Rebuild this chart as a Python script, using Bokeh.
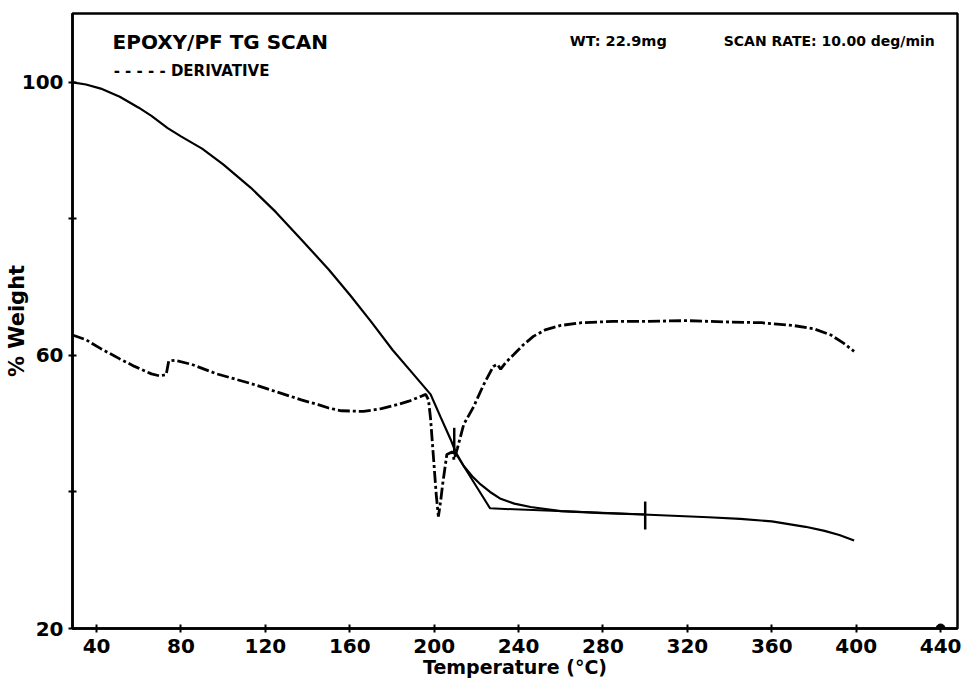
from bokeh.plotting import figure
from bokeh.models import Range1d, FixedTicker, Label
from bokeh.embed import file_html
from bokeh.resources import INLINE

# ---- data ----
tg_temp = [28.6, 35, 42, 51, 60, 66, 73.7, 80, 90, 100, 113, 125, 137, 150, 160,
           170, 180.3, 190, 198.3, 203, 207.8, 210.1, 214, 218, 222, 226.5, 231.5,
           238, 245.7, 260, 280, 299, 330, 345, 360, 376, 385, 392, 399]
tg_weight = [100.0, 99.7, 99.1, 97.9, 96.3, 95.1, 93.3, 92.1, 90.3, 88.0, 84.6, 81.0,
             77.0, 72.6, 68.9, 65.0, 60.8, 57.3, 54.3, 51.0, 47.7, 45.9, 43.8, 42.3,
             41.1, 40.0, 39.0, 38.3, 37.8, 37.2, 36.9, 36.7, 36.3, 36.05, 35.7, 34.9,
             34.3, 33.7, 32.9]

deriv_temp = [28.6, 35, 42, 51, 58, 66, 70, 73, 74.2, 77, 85, 97, 105, 113, 121, 129,
              137, 145, 150, 156, 166.5, 175, 182.6, 188, 193.6, 196, 197.3, 198.3,
              199.8, 201, 202, 203, 204, 206, 208.7, 209.4, 211, 214, 218.7, 223.4,
              228, 230, 231.5, 234, 237.6, 242, 247, 253, 260, 270, 285, 300, 320,
              340, 355, 370, 380, 388, 394, 399]
deriv_value = [63.0, 62.3, 61.0, 59.5, 58.4, 57.3, 57.0, 57.2, 59.2, 59.3, 58.7, 57.3,
               56.6, 55.9, 55.1, 54.3, 53.5, 52.8, 52.3, 51.9, 51.8, 52.2, 52.8, 53.3,
               54.0, 54.3, 53.5, 50.7, 44.5, 39.5, 36.4, 38.5, 41.1, 45.5, 45.9, 44.7,
               46.4, 49.9, 52.5, 55.7, 58.4, 58.7, 58.0, 59.0, 60.1, 61.5, 62.8, 63.8,
               64.4, 64.8, 65.0, 65.0, 65.1, 64.9, 64.8, 64.4, 63.9, 63.0, 61.8, 60.6]

onset_temp = [209.5, 226.5, 300]
onset_weight = [46.0, 37.6, 36.7]

marker_temp = [209.5, 300]
marker_top = [49.4, 38.6]
marker_bottom = [45.5, 34.5]

x_ticks = [40, 80, 120, 160, 200, 240, 280, 320, 360, 400, 440]
y_ticks = [20, 40, 60, 80, 100]
y_tick_labels = {20: "20", 40: "", 60: "60", 80: "", 100: "100"}

title_text = "EPOXY/PF  TG SCAN"
legend_text = "- - - - -   DERIVATIVE"
weight_text = "WT: 22.9mg"
rate_text = "SCAN RATE: 10.00 deg/min"

FONT = "DejaVu Sans"

p = figure(width=966, height=687, output_backend="svg", toolbar_location=None,
           x_range=Range1d(28.6, 448.0), y_range=Range1d(20, 110.1),
           min_border_left=72, min_border_right=9, min_border_top=13,
           min_border_bottom=59)
p.background_fill_color = "white"
p.border_fill_color = "white"
p.grid.visible = False
p.outline_line_color = "black"
p.outline_line_width = 2.5

# axes
p.xaxis.ticker = FixedTicker(ticks=x_ticks)
p.yaxis.ticker = FixedTicker(ticks=y_ticks)
p.yaxis.major_label_overrides = y_tick_labels
for ax in (p.xaxis[0], p.yaxis[0]):
    ax.axis_line_width = 2.5
    ax.axis_line_color = "black"
    ax.major_tick_in = 4
    ax.major_tick_out = 4
    ax.major_tick_line_width = 2
    ax.minor_tick_line_color = None
    ax.major_label_text_font = FONT
    ax.major_label_text_font_style = "bold"
    ax.major_label_text_font_size = "20px"
    ax.major_label_text_color = "black"
    ax.axis_label_text_font = FONT
    ax.axis_label_text_font_style = "bold"
    ax.axis_label_text_color = "black"

p.xaxis.axis_label = "Temperature (°C)"
p.xaxis.axis_label_text_font_size = "19px"
p.xaxis.major_label_standoff = 6
p.xaxis.axis_label_standoff = 0

p.yaxis.axis_label = "% Weight"
p.yaxis.axis_label_text_font_size = "21px"
p.yaxis.major_label_standoff = 5
p.yaxis.axis_label_standoff = -10

# curves
p.line(tg_temp, tg_weight, line_color="black", line_width=2.2)
p.line(deriv_temp, deriv_value, line_color="black", line_width=2.8,
       line_dash="12 3 3 3")
p.line(onset_temp, onset_weight, line_color="black", line_width=2)
p.segment(x0=marker_temp, y0=marker_bottom, x1=marker_temp, y1=marker_top,
          line_color="black", line_width=2.5)
p.scatter([x_ticks[-1]], [y_ticks[0]], size=9, color="black")

# texts
def add_text(x, y, txt, size):
    p.add_layout(Label(x=x, y=y, text=txt, text_font=FONT, text_font_style="bold",
                       text_font_size=size, text_color="black",
                       text_baseline="alphabetic", text_align="left"))

add_text(47.6, 105.9, title_text, "20px")
add_text(48.1, 101.7, legend_text, "15px")
add_text(264.2, 106.0, weight_text, "14.5px")
add_text(337.2, 106.0, rate_text, "14px")

open("out.html", "w").write(file_html(p, INLINE))
